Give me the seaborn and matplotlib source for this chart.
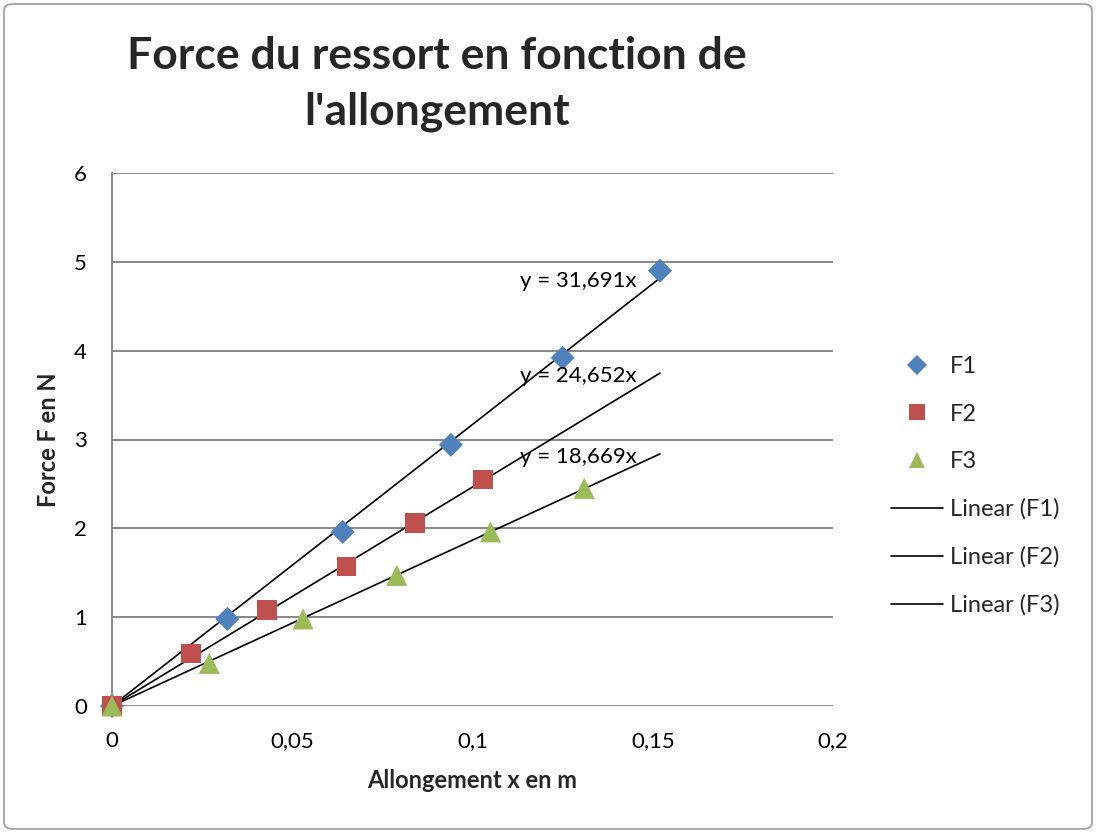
import matplotlib
matplotlib.use("Agg")
import matplotlib.pyplot as plt
from matplotlib.lines import Line2D
from matplotlib.patches import FancyBboxPatch
import numpy as np
import pandas as pd
import seaborn as sns

# ---- data ----
series_names = ["F1", "F2", "F3"]
x_f1 = [0.0, 0.032, 0.064, 0.094, 0.125, 0.152]
y_f1 = [0.0, 0.98, 1.96, 2.94, 3.92, 4.90]
x_f2 = [0.0, 0.022, 0.043, 0.065, 0.084, 0.103]
y_f2 = [0.0, 0.59, 1.08, 1.57, 2.06, 2.55]
x_f3 = [0.0, 0.027, 0.053, 0.079, 0.105, 0.131]
y_f3 = [0.0, 0.48, 0.98, 1.47, 1.96, 2.45]
slopes = [31.691, 24.652, 18.669]
slope_labels = ["y = 31,691x", "y = 24,652x", "y = 18,669x"]
x_ticks = [0, 0.05, 0.1, 0.15, 0.2]
x_tick_labels = ["0", "0,05", "0,1", "0,15", "0,2"]
y_ticks = [0, 1, 2, 3, 4, 5, 6]
title = "Force du ressort en fonction de\nl'allongement"
x_label = "Allongement x en m"
y_label = "Force F en N"

colors = {"F1": "#4F81BD", "F2": "#C0504D", "F3": "#9BBB59"}
markers = {"F1": "D", "F2": "s", "F3": "^"}
sizes = {"F1": 150, "F2": 200, "F3": 230}

df = pd.DataFrame({
    "x": x_f1 + x_f2 + x_f3,
    "y": y_f1 + y_f2 + y_f3,
    "serie": ["F1"] * len(x_f1) + ["F2"] * len(x_f2) + ["F3"] * len(x_f3),
})

sns.set_theme(style="white")
plt.rcParams["font.family"] = ["Lato", "DejaVu Sans"]

fig = plt.figure(figsize=(10.96, 8.33), dpi=100)
ax = fig.add_axes([112 / 1096, 1 - 706 / 833, (833 - 112) / 1096, (706 - 173) / 833])

# trendlines
x_end = max(x_f1 + x_f2 + x_f3)
for name, k in zip(series_names, slopes):
    xs = np.array([0.0, x_end])
    sns.lineplot(x=xs, y=k * xs, ax=ax, color="black", linewidth=1.2, zorder=2, legend=False)

for name in series_names:
    sub = df[df["serie"] == name]
    sns.scatterplot(data=sub, x="x", y="y", ax=ax, marker=markers[name], s=sizes[name],
                    color=colors[name], edgecolor="none", zorder=3, legend=False, clip_on=False)

# trendline labels
label_y = [4.78, 3.71, 2.80]
for txt, yy in zip(slope_labels, label_y):
    ax.text(0.1456, yy, txt, ha="right", va="center", fontsize=16, color="black", zorder=4)

ax.set_xlim(0, 0.2)
ax.set_ylim(0, 6)
ax.set_xticks(x_ticks)
ax.set_xticklabels(x_tick_labels)
ax.set_yticks(y_ticks)
ax.set_yticklabels([str(v) for v in y_ticks])
ax.tick_params(axis="both", length=0, labelsize=16, colors="black")
ax.tick_params(axis="x", pad=18)
ax.tick_params(axis="y", pad=18)
ax.yaxis.grid(True, color="#878787", linewidth=1.4)
ax.xaxis.grid(False)
for side in ["top", "right", "bottom"]:
    ax.spines[side].set_visible(False)
ax.spines["left"].set_color("#878787")
ax.spines["left"].set_linewidth(1.4)
ax.set_xlabel("")
ax.set_ylabel("")

fig.text(472 / 1096, 1 - 781 / 833, x_label, ha="center", va="center", fontsize=17, fontweight="bold")
fig.text(48 / 1096, 1 - 440 / 833, y_label, ha="center", va="center", fontsize=17,
         fontweight="bold", rotation=90)
fig.text(437 / 1096, 1 - 84 / 833, title, ha="center", va="center", fontsize=32,
         fontweight="bold", linespacing=1.45)

# legend
handles = [Line2D([], [], linestyle="none", marker=markers[n], color=colors[n], markersize=11 if n != "F1" else 10,
                  markeredgewidth=0) for n in series_names]
handles += [Line2D([], [], color="black", linewidth=1.2) for _ in series_names]
labels = series_names + ["Linear (%s)" % n for n in series_names]
fig.legend(handles, labels, loc="center left", bbox_to_anchor=(891 / 1096, 1 - 486 / 833),
           frameon=False, fontsize=17, labelspacing=1.12, handlelength=2.2, handletextpad=0.3,
           borderpad=0, borderaxespad=0)

# outer border
border = FancyBboxPatch((4 / 1096, 4 / 833), 1 - 8 / 1096, 1 - 8 / 833,
                        boxstyle="round,pad=0,rounding_size=0.008", transform=fig.transFigure,
                        facecolor="none", edgecolor="#9a9a9a", linewidth=1.2)
fig.patches.append(border)

fig.savefig("out.png", dpi=100)
